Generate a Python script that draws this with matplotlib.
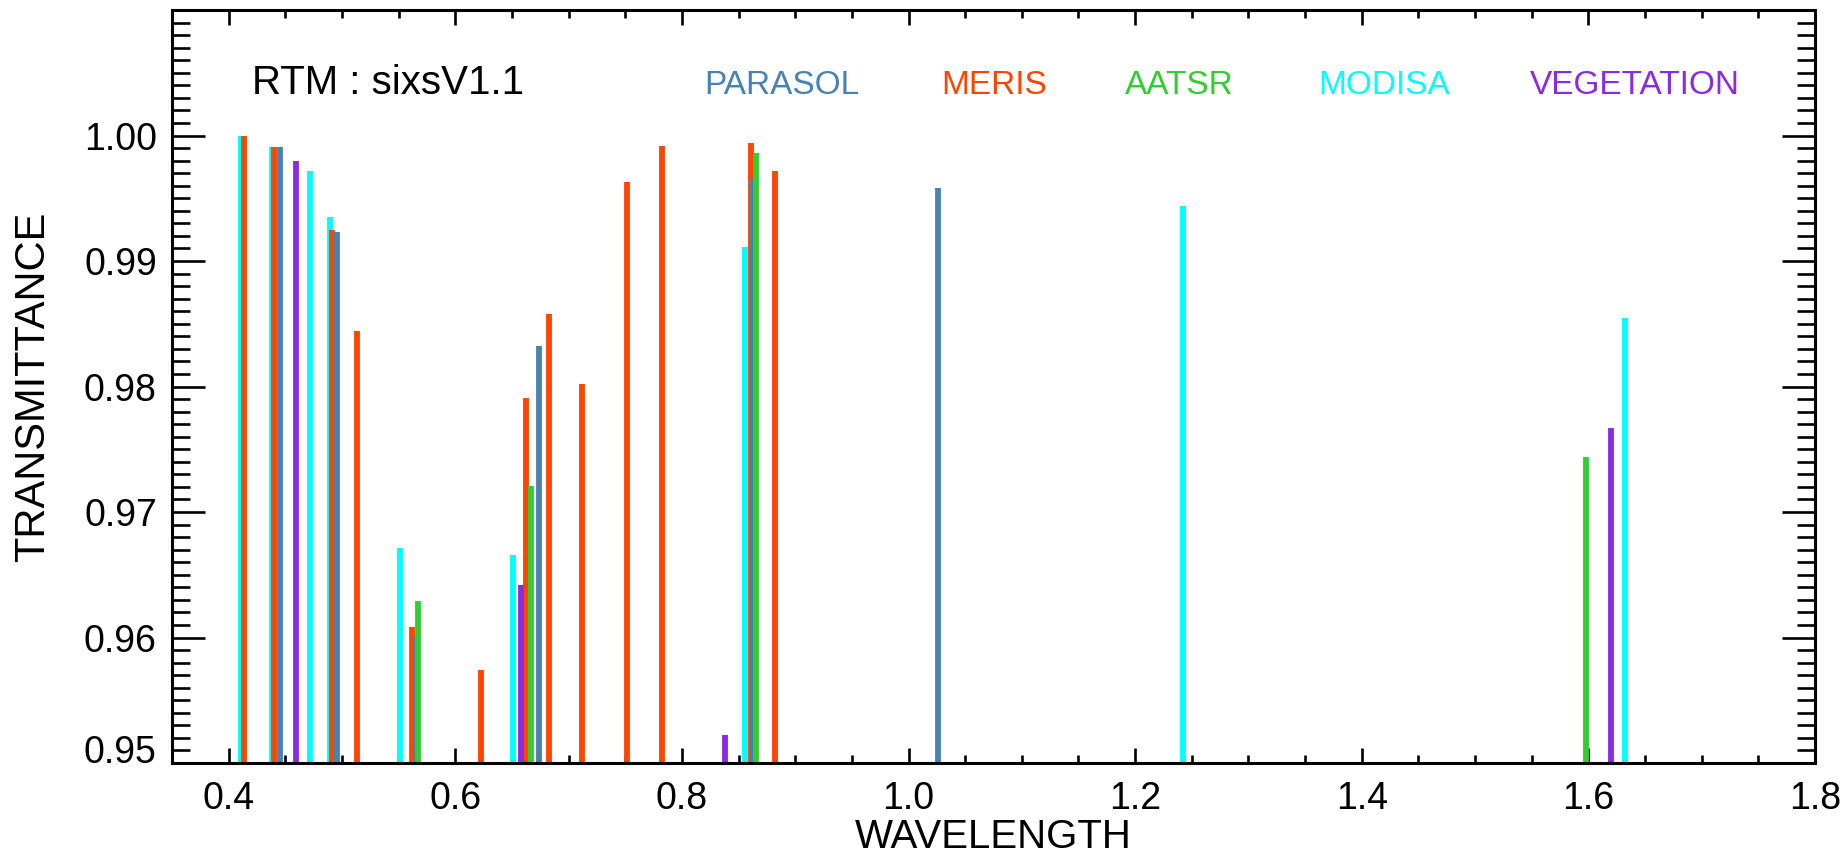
import matplotlib
matplotlib.use("Agg")
import matplotlib.pyplot as plt
from matplotlib.ticker import MultipleLocator

plt.rcParams['font.family'] = ['Liberation Sans', 'DejaVu Sans']

# wavelength (micron) and transmittance per sensor
modisa_wl = [0.4106, 0.4384, 0.4714, 0.4894, 0.5514, 0.6511, 0.8560, 1.2422, 1.6321]
modisa_tr = [1.0000, 0.9991, 0.9972, 0.9935, 0.9671, 0.9666, 0.9911, 0.9944, 0.9855]

meris_wl = [0.4137, 0.4401, 0.4915, 0.5135, 0.5620, 0.6228, 0.6625, 0.6825, 0.7122, 0.7516, 0.7822, 0.8612, 0.8821]
meris_tr = [1.0000, 0.9991, 0.9925, 0.98445, 0.9608, 0.9574, 0.9791, 0.9858, 0.9802, 0.9963, 0.9992, 0.9994, 0.9972]

parasol_wl = [0.4452, 0.4955, 0.5649, 0.6742, 0.8630, 1.0262]
parasol_tr = [0.9991, 0.9923, 0.9602, 0.9832, 0.9965, 0.9958]

aatsr_wl = [0.5670, 0.6669, 0.8656, 1.5979]
aatsr_tr = [0.9629, 0.9721, 0.9986, 0.9744]

veg_wl = [0.4594, 0.6581, 0.8377, 1.6199]
veg_tr = [0.9980, 0.9642, 0.9522, 0.9767]

base = 0.95

fig = plt.figure(figsize=(18.48, 8.65), dpi=100)
ax = fig.add_axes([0.0931, 0.1179, 0.8890, 0.8705])

lw = 4.2
ax.vlines(modisa_wl, base, modisa_tr, colors='#00FFFF', linewidth=lw)
ax.vlines(meris_wl, base, meris_tr, colors='#FF4500', linewidth=lw)
ax.vlines(parasol_wl, base, parasol_tr, colors='#4682B4', linewidth=lw)
ax.vlines(aatsr_wl, base, aatsr_tr, colors='#32CD32', linewidth=lw)
ax.vlines(veg_wl, base, veg_tr, colors='#8A2BE2', linewidth=lw)

ax.set_xlim(0.35, 1.8)
ax.set_ylim(0.95, 1.01)

ax.set_xticks([0.4, 0.6, 0.8, 1.0, 1.2, 1.4, 1.6, 1.8])
ax.set_xticklabels(['0.4', '0.6', '0.8', '1.0', '1.2', '1.4', '1.6', '1.8'])
ax.set_yticks([0.95, 0.96, 0.97, 0.98, 0.99, 1.00])
ax.set_yticklabels(['0.95', '0.96', '0.97', '0.98', '0.99', '1.00'])
ax.xaxis.set_minor_locator(MultipleLocator(0.05))
ax.yaxis.set_minor_locator(MultipleLocator(0.001))

ax.tick_params(which='both', direction='in', top=True, right=True, width=1.9, colors='black')
ax.tick_params(axis='x', which='major', length=11, pad=13, labelsize=27)
ax.tick_params(axis='x', which='minor', length=6)
ax.tick_params(axis='y', which='major', length=24, pad=11, labelsize=27)
ax.tick_params(axis='y', which='minor', length=13)
for s in ax.spines.values():
    s.set_linewidth(2.2)

ax.get_yticklabels()[0].set_va('baseline')

ax.set_xlabel('WAVELENGTH', fontsize=29, labelpad=1)
ax.set_ylabel('TRANSMITTANCE', fontsize=30, labelpad=22)

ty = 1.0033
ax.text(0.4203, ty, 'RTM : sixsV1.1', fontsize=29, color='black', va='baseline')
ax.text(0.8198, ty, 'PARASOL', fontsize=24, color='#4682B4', va='baseline')
ax.text(1.0288, ty, 'MERIS', fontsize=24, color='#FF4500', va='baseline')
ax.text(1.1910, ty, 'AATSR', fontsize=24, color='#32CD32', va='baseline')
ax.text(1.3612, ty, 'MODISA', fontsize=24, color='#00FFFF', va='baseline')
ax.text(1.5480, ty, 'VEGETATION', fontsize=24, color='#8A2BE2', va='baseline')

fig.savefig('out.png', dpi=100)
